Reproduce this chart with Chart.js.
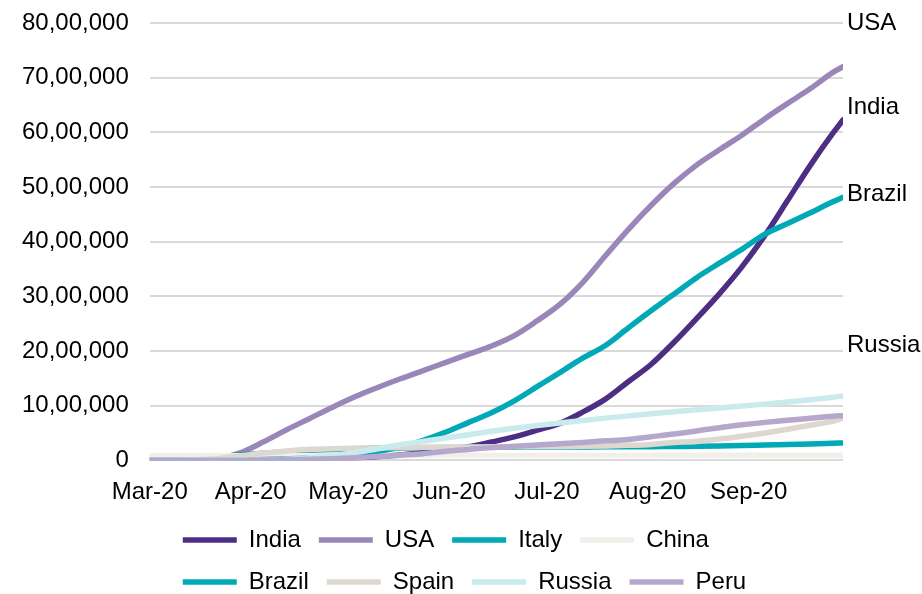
<!DOCTYPE html>
<html>
<head>
<meta charset="utf-8">
<script src="https://cdn.jsdelivr.net/npm/chart.js@4.4.0/dist/chart.umd.min.js"></script>
<style>
  html, body { margin: 0; padding: 0; background: #fff; }
</style>
</head>
<body>
<canvas id="chart" width="922" height="594"></canvas>
<script>
// days since 1 Mar 2020, sampled weekly
var days = [0, 7, 14, 21, 28, 35, 42, 49, 56, 63, 70, 77, 84, 91, 98, 105, 112, 119, 126, 133, 140, 147, 154, 161, 168, 175, 182, 189, 196, 203, 210, 213];
var monthDays = [0, 31, 61, 92, 122, 153, 184];
var monthLabels = ['Mar-20', 'Apr-20', 'May-20', 'Jun-20', 'Jul-20', 'Aug-20', 'Sep-20'];

var india = [0, 0, 0, 400, 1000, 4000, 9000, 17000, 27000, 42000, 67000, 96000, 139000, 190000, 247000, 333000, 426000, 549000, 674000, 879000, 1118000, 1436000, 1751000, 2153000, 2590000, 3044000, 3542000, 4113000, 4755000, 5400000, 5992000, 6225000];
var usa = [0, 500, 3500, 33000, 140000, 337000, 555000, 760000, 965000, 1160000, 1330000, 1490000, 1640000, 1790000, 1940000, 2090000, 2280000, 2550000, 2850000, 3250000, 3740000, 4220000, 4660000, 5060000, 5400000, 5680000, 5950000, 6250000, 6530000, 6800000, 7100000, 7200000];
var italy = [2000, 7000, 25000, 59000, 98000, 129000, 156000, 179000, 198000, 211000, 219000, 225000, 230000, 233000, 235000, 237000, 238000, 240000, 242000, 243000, 244000, 246000, 248000, 251000, 254000, 260000, 268000, 278000, 288000, 298000, 308000, 315000];
var china = [80000, 81000, 81000, 81000, 82000, 83000, 83000, 84000, 84000, 84000, 84000, 84000, 84000, 84000, 84000, 84000, 85000, 85000, 85000, 85000, 85000, 87000, 88000, 89000, 89000, 90000, 90000, 90000, 90000, 91000, 91000, 91000];
var brazil = [0, 0, 0, 2000, 4000, 11000, 22000, 39000, 62000, 101000, 163000, 241000, 364000, 515000, 692000, 868000, 1086000, 1345000, 1604000, 1867000, 2099000, 2419000, 2734000, 3035000, 3340000, 3605000, 3862000, 4137000, 4330000, 4528000, 4732000, 4810000];
var spain = [0, 1000, 8000, 29000, 80000, 131000, 167000, 199000, 209000, 217000, 224000, 231000, 235000, 239000, 241000, 244000, 246000, 249000, 251000, 254000, 260000, 272000, 289000, 323000, 343000, 386000, 439000, 499000, 566000, 640000, 716000, 769000];
var russia = [0, 0, 0, 0, 2000, 5000, 16000, 43000, 81000, 135000, 210000, 282000, 344000, 406000, 467000, 528000, 584000, 634000, 680000, 727000, 770000, 811000, 851000, 887000, 921000, 957000, 990000, 1026000, 1064000, 1105000, 1151000, 1176000];
var peru = [0, 0, 0, 0, 1000, 2000, 8000, 16000, 28000, 46000, 67000, 92000, 120000, 164000, 197000, 230000, 255000, 279000, 303000, 326000, 354000, 380000, 429000, 478000, 536000, 594000, 647000, 692000, 730000, 769000, 805000, 815000];

var seriesNames = ['India', 'USA', 'Italy', 'China', 'Brazil', 'Spain', 'Russia', 'Peru'];
var seriesValues = [india, usa, italy, china, brazil, spain, russia, peru];
var seriesColors = ['#4e2d84', '#9a86b9', '#00a9b3', '#f0efea', '#00a9b5', '#ddd7cf', '#c9ebee', '#b6a8cc'];

// names written at the right of the plot, and the value they sit at
var tagNames = ['USA', 'India', 'Brazil', 'Russia'];
var tagValues = [8000000, 6450000, 4870000, 2100000];

var FONT = 'Arial, "Liberation Sans", sans-serif';
Chart.defaults.font.family = FONT;
Chart.defaults.font.size = 24;
Chart.defaults.color = '#000';

function indianFormat(n) {
  var s = String(Math.round(n));
  if (s.length <= 3) return s;
  var last3 = s.slice(-3);
  var rest = s.slice(0, -3);
  var parts = [];
  while (rest.length > 2) {
    parts.unshift(rest.slice(-2));
    rest = rest.slice(0, -2);
  }
  if (rest) parts.unshift(rest);
  return parts.join(',') + ',' + last3;
}

var datasets = seriesNames.map(function (name, i) {
  return {
    label: name,
    data: days.map(function (d, j) { return { x: d, y: seriesValues[i][j] }; }),
    borderColor: seriesColors[i],
    backgroundColor: seriesColors[i],
    borderWidth: 5.5,
    borderCapStyle: 'round',
    borderJoinStyle: 'round',
    pointRadius: 0,
    cubicInterpolationMode: 'monotone',
    order: seriesNames.length - i
  };
});

var endTags = {
  id: 'endTags',
  afterDatasetsDraw: function (chart) {
    var ctx = chart.ctx, y = chart.scales.y, area = chart.chartArea;
    ctx.save();
    ctx.font = '24px ' + FONT;
    ctx.fillStyle = '#000';
    ctx.textAlign = 'left';
    ctx.textBaseline = 'middle';
    tagNames.forEach(function (t, i) {
      ctx.fillText(t, area.right + 4, y.getPixelForValue(tagValues[i]));
    });
    ctx.restore();
  }
};

// small offset so the legend sits where the original puts it
var legendNudge = {
  id: 'legendNudge',
  afterLayout: function (chart) {
    var l = chart.legend;
    l.left += 15; l.right += 15;
    l.top += 3; l.bottom += 3;
  }
};

var noTick = 'rgba(0,0,0,0)';

new Chart(document.getElementById('chart'), {
  type: 'line',
  data: { datasets: datasets },
  options: {
    responsive: false,
    animation: false,
    layout: { padding: { top: 23, right: 79, bottom: -7, left: 22 } },
    scales: {
      x: {
        type: 'linear',
        min: 0,
        max: 213,
        grid: { drawOnChartArea: false, drawTicks: true, tickLength: 18, tickColor: noTick, color: noTick },
        border: { display: false },
        afterBuildTicks: function (s) {
          s.ticks = monthDays.map(function (v) { return { value: v }; });
        },
        ticks: {
          padding: 0,
          maxRotation: 0,
          autoSkip: false,
          callback: function (v) {
            var k = monthDays.indexOf(v);
            return k < 0 ? '' : monthLabels[k];
          }
        }
      },
      y: {
        min: 0,
        max: 8000000,
        grid: { color: '#d9d9d9', lineWidth: 2, drawTicks: true, tickLength: 21, tickColor: noTick },
        border: { display: false },
        ticks: {
          stepSize: 1000000,
          padding: 0,
          callback: function (v) { return indianFormat(v); }
        }
      }
    },
    plugins: {
      tooltip: { enabled: false },
      legend: {
        position: 'bottom',
        align: 'start',
        fullSize: false,
        labels: {
          usePointStyle: true,
          pointStyle: 'line',
          pointStyleWidth: 54,
          padding: 18,
          color: '#000',
          font: { size: 24, family: FONT },
          sort: function (a, b) { return a.datasetIndex - b.datasetIndex; }
        }
      }
    }
  },
  plugins: [endTags, legendNudge]
});
</script>
</body>
</html>
